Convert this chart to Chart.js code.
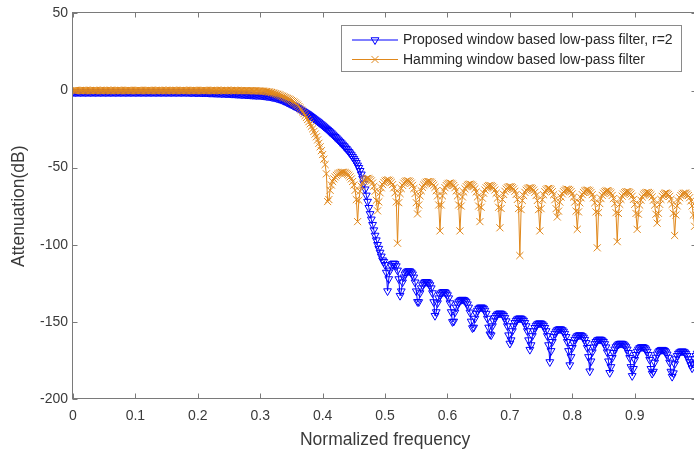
<!DOCTYPE html>
<html>
<head>
<meta charset="utf-8">
<script src="https://cdn.jsdelivr.net/npm/chart.js@4.4.1/dist/chart.umd.min.js"></script>
<style>
  html, body { margin: 0; padding: 0; overflow: hidden; background: #fff; }
  canvas { display: block; }
</style>
</head>
<body>
<canvas id="response" width="710" height="454"></canvas>
<script>
// Frequency grid (normalized, 1 = Nyquist)
const freq = [
  0,0.002,0.004,0.006,0.008,0.01,0.012,0.014,0.016,0.018,
  0.02,0.022,0.024,0.026,0.028,0.03,0.032,0.034,0.036,0.038,
  0.04,0.042,0.044,0.046,0.048,0.05,0.052,0.054,0.056,0.058,
  0.06,0.062,0.064,0.066,0.068,0.07,0.072,0.074,0.076,0.078,
  0.08,0.082,0.084,0.086,0.088,0.09,0.092,0.094,0.096,0.098,
  0.1,0.102,0.104,0.106,0.108,0.11,0.112,0.114,0.116,0.118,
  0.12,0.122,0.124,0.126,0.128,0.13,0.132,0.134,0.136,0.138,
  0.14,0.142,0.144,0.146,0.148,0.15,0.152,0.154,0.156,0.158,
  0.16,0.162,0.164,0.166,0.168,0.17,0.172,0.174,0.176,0.178,
  0.18,0.182,0.184,0.186,0.188,0.19,0.192,0.194,0.196,0.198,
  0.2,0.202,0.204,0.206,0.208,0.21,0.212,0.214,0.216,0.218,
  0.22,0.222,0.224,0.226,0.228,0.23,0.232,0.234,0.236,0.238,
  0.24,0.242,0.244,0.246,0.248,0.25,0.252,0.254,0.256,0.258,
  0.26,0.262,0.264,0.266,0.268,0.27,0.272,0.274,0.276,0.278,
  0.28,0.282,0.284,0.286,0.288,0.29,0.292,0.294,0.296,0.298,
  0.3,0.302,0.304,0.306,0.308,0.31,0.312,0.314,0.316,0.318,
  0.32,0.322,0.324,0.326,0.328,0.33,0.332,0.334,0.336,0.338,
  0.34,0.342,0.344,0.346,0.348,0.35,0.352,0.354,0.356,0.358,
  0.36,0.362,0.364,0.366,0.368,0.37,0.372,0.374,0.376,0.378,
  0.38,0.382,0.384,0.386,0.388,0.39,0.392,0.394,0.396,0.398,
  0.4,0.402,0.404,0.406,0.408,0.41,0.412,0.414,0.416,0.418,
  0.42,0.422,0.424,0.426,0.428,0.43,0.432,0.434,0.436,0.438,
  0.44,0.442,0.444,0.446,0.448,0.45,0.452,0.454,0.456,0.458,
  0.46,0.462,0.464,0.466,0.468,0.47,0.472,0.474,0.476,0.478,
  0.48,0.482,0.484,0.486,0.488,0.49,0.492,0.494,0.496,0.498,
  0.5,0.502,0.504,0.506,0.508,0.51,0.512,0.514,0.516,0.518,
  0.52,0.522,0.524,0.526,0.528,0.53,0.532,0.534,0.536,0.538,
  0.54,0.542,0.544,0.546,0.548,0.55,0.552,0.554,0.556,0.558,
  0.56,0.562,0.564,0.566,0.568,0.57,0.572,0.574,0.576,0.578,
  0.58,0.582,0.584,0.586,0.588,0.59,0.592,0.594,0.596,0.598,
  0.6,0.602,0.604,0.606,0.608,0.61,0.612,0.614,0.616,0.618,
  0.62,0.622,0.624,0.626,0.628,0.63,0.632,0.634,0.636,0.638,
  0.64,0.642,0.644,0.646,0.648,0.65,0.652,0.654,0.656,0.658,
  0.66,0.662,0.664,0.666,0.668,0.67,0.672,0.674,0.676,0.678,
  0.68,0.682,0.684,0.686,0.688,0.69,0.692,0.694,0.696,0.698,
  0.7,0.702,0.704,0.706,0.708,0.71,0.712,0.714,0.716,0.718,
  0.72,0.722,0.724,0.726,0.728,0.73,0.732,0.734,0.736,0.738,
  0.74,0.742,0.744,0.746,0.748,0.75,0.752,0.754,0.756,0.758,
  0.76,0.762,0.764,0.766,0.768,0.77,0.772,0.774,0.776,0.778,
  0.78,0.782,0.784,0.786,0.788,0.79,0.792,0.794,0.796,0.798,
  0.8,0.802,0.804,0.806,0.808,0.81,0.812,0.814,0.816,0.818,
  0.82,0.822,0.824,0.826,0.828,0.83,0.832,0.834,0.836,0.838,
  0.84,0.842,0.844,0.846,0.848,0.85,0.852,0.854,0.856,0.858,
  0.86,0.862,0.864,0.866,0.868,0.87,0.872,0.874,0.876,0.878,
  0.88,0.882,0.884,0.886,0.888,0.89,0.892,0.894,0.896,0.898,
  0.9,0.902,0.904,0.906,0.908,0.91,0.912,0.914,0.916,0.918,
  0.92,0.922,0.924,0.926,0.928,0.93,0.932,0.934,0.936,0.938,
  0.94,0.942,0.944,0.946,0.948,0.95,0.952,0.954,0.956,0.958,
  0.96,0.962,0.964,0.966,0.968,0.97,0.972,0.974,0.976,0.978,
  0.98,0.982,0.984,0.986,0.988,0.99,0.992,0.994,0.996,0.998,
  1
];

// Attenuation (dB) of the proposed window design, r = 2
const proposedDb = [
  -1.0,-1.0,-1.0,-1.0,-1.0,-1.0,-1.0,-1.0,-1.0,-1.0,
  -1.0,-1.0,-1.0,-1.0,-1.0,-1.0,-1.0,-1.0,-1.0,-1.0,
  -1.0,-1.0,-1.0,-1.0,-1.0,-1.0,-1.0,-1.0,-1.0,-1.0,
  -1.0,-1.0,-1.0,-1.0,-1.0,-1.0,-1.0,-1.0,-1.0,-1.0,
  -1.0,-1.0,-1.0,-1.0,-1.0,-1.0,-1.0,-1.0,-1.0,-1.0,
  -1.0,-1.0,-1.0,-1.0,-1.0,-1.0,-1.0,-1.0,-1.0,-1.0,
  -1.0,-1.0,-1.0,-1.0,-1.0,-1.0,-1.0,-1.0,-1.0,-1.0,
  -1.0,-1.0,-1.0,-1.0,-1.0,-1.0,-1.0,-1.0,-1.0,-1.0,
  -1.0,-1.0,-1.0,-1.0,-1.0,-1.0,-1.0,-1.0,-1.0,-1.0,
  -1.0,-1.0,-1.0,-1.1,-1.1,-1.1,-1.1,-1.1,-1.2,-1.2,
  -1.2,-1.2,-1.2,-1.2,-1.3,-1.3,-1.3,-1.3,-1.3,-1.4,
  -1.4,-1.4,-1.4,-1.5,-1.5,-1.5,-1.6,-1.6,-1.6,-1.7,
  -1.7,-1.7,-1.8,-1.8,-1.8,-1.9,-1.9,-2.0,-2.0,-2.0,
  -2.1,-2.1,-2.2,-2.2,-2.3,-2.3,-2.4,-2.4,-2.5,-2.5,
  -2.6,-2.6,-2.7,-2.7,-2.8,-2.8,-2.9,-2.9,-2.9,-3.0,
  -3.0,-3.1,-3.2,-3.3,-3.4,-3.5,-3.6,-3.75,-3.9,-4.05,
  -4.2,-4.4,-4.6,-4.8,-5.0,-5.3,-5.6,-5.9,-6.2,-6.6,
  -7.0,-7.4,-7.8,-8.2,-8.6,-9.0,-9.4,-9.85,-10.3,-10.75,
  -11.2,-11.7,-12.2,-12.7,-13.2,-13.7,-14.2,-14.7,-15.2,-15.8,
  -16.4,-17.0,-17.6,-18.2,-18.8,-19.4,-20.0,-20.6,-21.3,-21.9,
  -22.6,-23.3,-24.0,-24.7,-25.4,-26.1,-26.9,-27.6,-28.4,-29.2,
  -30.0,-30.8,-31.6,-32.4,-33.3,-34.1,-35.0,-35.9,-36.8,-37.7,
  -38.7,-39.7,-40.7,-41.8,-43.0,-44.2,-45.5,-46.9,-48.5,-50.1,
  -52.0,-54.3,-57.0,-60.3,-64.0,-68.0,-72.0,-76.0,-80.0,-83.5,
  -87.0,-90.5,-94.0,-97.0,-100.0,-102.5,-105.0,-107.5,-110.0,-111.0,
  -113,-118,-130,-122.2,-116.6,-113.8,-112.4,-112,-112.4,-113.8,
  -116.6,-122.2,-133,-130.1,-124.3,-121.1,-119.1,-117.9,-117.2,-117,
  -117.2,-117.9,-119.1,-121.1,-124.3,-130.1,-137,-137.1,-131.3,-128.1,
  -126.1,-124.9,-124.2,-124,-124.2,-124.9,-126.1,-128.1,-131.3,-137.1,
  -146,-143.6,-137.8,-134.6,-132.6,-131.4,-130.7,-130.5,-130.7,-131.4,
  -132.6,-134.6,-137.8,-143.6,-150,-149.7,-143.8,-140.6,-138.5,-137.1,
  -136.2,-135.7,-135.5,-135.7,-136.2,-137.1,-138.5,-140.6,-143.8,-149.7,
  -154,-153.6,-147.8,-144.6,-142.6,-141.4,-140.7,-140.5,-140.7,-141.4,
  -142.6,-144.6,-147.8,-153.6,-158,-158.6,-152.7,-149.5,-147.4,-146,
  -145.1,-144.6,-144.4,-144.6,-145.1,-146,-147.4,-149.5,-152.7,-158.6,
  -164,-161.8,-155.9,-152.7,-150.6,-149.2,-148.3,-147.8,-147.6,-147.8,
  -148.3,-149.2,-150.6,-152.7,-155.9,-161.8,-168,-165,-159.1,-155.9,
  -153.8,-152.4,-151.5,-151,-150.8,-151,-151.5,-152.4,-153.8,-155.9,
  -159.1,-165,-176,-168.8,-162.9,-159.7,-157.6,-156.2,-155.3,-154.8,
  -154.6,-154.8,-155.3,-156.2,-157.6,-159.7,-162.9,-168.8,-178,-172.7,
  -166.8,-163.6,-161.5,-160.1,-159.2,-158.7,-158.5,-158.7,-159.2,-160.1,
  -161.5,-163.6,-166.8,-172.7,-182,-175.5,-169.6,-166.4,-164.3,-162.9,
  -162,-161.5,-161.3,-161.5,-162,-162.9,-164.3,-166.4,-169.6,-175.5,
  -183,-179.2,-173.3,-170,-167.8,-166.3,-165.3,-164.5,-164.1,-164,
  -164.1,-164.5,-165.3,-166.3,-167.8,-170,-173.3,-179.2,-185,-180.4,
  -174.5,-171.3,-169.2,-167.8,-166.9,-166.4,-166.2,-166.4,-166.9,-167.8,
  -169.2,-171.3,-174.5,-180.4,-183.5,-182.2,-176.3,-173.1,-171,-169.6,
  -168.7,-168.2,-168,-168.2,-168.7,-169.6,-171,-173.1,-176.3,-182.2,
  -185.5,-183.2,-177.3,-174.1,-172,-170.6,-169.7,-169.2,-169,-169.2,
  -169.7,-170.6,-172,-174.1,-176,-178,-180,-177,-174,-172,
  -170.5
];

// Attenuation (dB) of the Hamming window design
const hammingDb = [
  0,0,0,0,0,0,0,0,0,0,
  0,0,0,0,0,0,0,0,0,0,
  0,0,0,0,0,0,0,0,0,0,
  0,0,0,0,0,0,0,0,0,0,
  0,0,0,0,0,0,0,0,0,0,
  0,0,0,0,0,0,0,0,0,0,
  0,0,0,0,0,0,0,0,0,0,
  0,0,0,0,0,0,0,0,0,0,
  0,0,0,0,0,0,0,0,0,0,
  0,0,0,0,0,0,0,0,0,0,
  0,0,0,0,0,0,0,0,0,0,
  0,0,0,0,0,0,0,0,0,0,
  0,0,0,0,0,0,0,0,0,0,
  0,0,0,-0.05,-0.05,-0.05,-0.05,-0.05,-0.1,-0.1,
  -0.1,-0.1,-0.1,-0.15,-0.15,-0.2,-0.2,-0.2,-0.25,-0.25,
  -0.3,-0.35,-0.4,-0.5,-0.6,-0.7,-0.8,-0.95,-1.1,-1.3,
  -1.5,-1.75,-2.0,-2.25,-2.5,-2.8,-3.1,-3.45,-3.8,-4.15,
  -4.5,-4.85,-5.2,-5.6,-6.0,-6.5,-7.0,-7.5,-8.1,-8.8,
  -9.5,-10.4,-11.5,-12.6,-13.8,-15.0,-16.2,-17.5,-18.8,-20.2,
  -21.6,-23.2,-24.8,-26.5,-28.2,-30.0,-32.0,-34.2,-36.5,-39.0,
  -41.5,-44.5,-48.0,-54.0,-72,-70.7,-64.7,-61.3,-59,-57.3,
  -56,-55,-54.3,-53.7,-53.3,-53.1,-53,-53.1,-53.3,-53.7,
  -54.3,-55,-56,-57.3,-59,-61.3,-64.7,-70.7,-85,-71.2,
  -65.3,-62.1,-60,-58.6,-57.7,-57.2,-57,-57.2,-57.7,-58.6,
  -60,-62.1,-65.3,-71.2,-78,-72.2,-66.3,-63.1,-61,-59.6,
  -58.7,-58.2,-58,-58.2,-58.7,-59.6,-61,-63.1,-66.3,-72.2,
  -99,-72.7,-66.8,-63.6,-61.5,-60.1,-59.2,-58.7,-58.5,-58.7,
  -59.2,-60.1,-61.5,-63.6,-66.8,-72.7,-80,-74.2,-68.3,-65,
  -62.8,-61.3,-60.3,-59.5,-59.1,-59,-59.1,-59.5,-60.3,-61.3,
  -62.8,-65,-68.3,-74.2,-91,-74.2,-68.3,-65.1,-63,-61.6,
  -60.7,-60.2,-60,-60.2,-60.7,-61.6,-63,-65.1,-68.3,-74.2,
  -91,-74.9,-69,-65.8,-63.7,-62.3,-61.4,-60.9,-60.7,-60.9,
  -61.4,-62.3,-63.7,-65.8,-69,-74.9,-85,-75.7,-69.8,-66.6,
  -64.5,-63.1,-62.2,-61.7,-61.5,-61.7,-62.2,-63.1,-64.5,-66.6,
  -69.8,-75.7,-89,-76.5,-70.6,-67.4,-65.3,-63.9,-63,-62.5,
  -62.3,-62.5,-63,-63.9,-65.3,-67.4,-70.6,-76.5,-107,-77.2,
  -71.3,-68.1,-66,-64.6,-63.7,-63.2,-63,-63.2,-63.7,-64.6,
  -66,-68.1,-71.3,-77.2,-91,-76.6,-70.8,-67.6,-65.6,-64.4,
  -63.7,-63.5,-63.7,-64.4,-65.6,-67.6,-70.8,-76.6,-82,-78.2,
  -72.3,-69.1,-67,-65.6,-64.7,-64.2,-64,-64.2,-64.7,-65.6,
  -67,-69.1,-72.3,-78.2,-90,-78.7,-72.8,-69.6,-67.5,-66.1,
  -65.2,-64.7,-64.5,-64.7,-65.2,-66.1,-67.5,-69.6,-72.8,-78.7,
  -102,-79.2,-73.3,-70.1,-68,-66.6,-65.7,-65.2,-65,-65.2,
  -65.7,-66.6,-68,-70.1,-73.3,-79.2,-98,-79.7,-73.8,-70.6,
  -68.5,-67.1,-66.2,-65.7,-65.5,-65.7,-66.2,-67.1,-68.5,-70.6,
  -73.8,-79.7,-90,-80.2,-74.3,-71.1,-69,-67.6,-66.7,-66.2,
  -66,-66.2,-66.7,-67.6,-69,-71.1,-74.3,-80.2,-86,-79.6,
  -73.8,-70.6,-68.6,-67.4,-66.7,-66.5,-66.7,-67.4,-68.6,-70.6,
  -73.8,-79.6,-94,-80.7,-74.8,-71.6,-69.5,-68.1,-67.2,-66.7,
  -66.5,-66.7,-67.2,-68.1,-69.5,-71.6,-74.8,-80.7,-88,-80.7,
  -74.8
];

// Axis ticks and texts
const xTicks = [0, 0.1, 0.2, 0.3, 0.4, 0.5, 0.6, 0.7, 0.8, 0.9, 1];
const yTicks = [50, 0, -50, -100, -150, -200];
const seriesNames = [
  'Proposed window based low-pass filter, r=2',
  'Hamming window based low-pass filter'
];
const xTitle = 'Normalized frequency';
const yTitle = 'Attenuation(dB)';

const BLUE = '#0000ff';
const ORANGE = '#e0881c';
const AXIS = '#7a7a7a';
const TEXT = '#3a3a3a';
const FONT = "'Liberation Sans', Arial, Helvetica, sans-serif";

function toPoints(ys) {
  return freq.map((f, i) => ({ x: f, y: ys[i] }));
}

// Marker shapes reused by the legend
function drawDownTriangle(ctx, x, y, r) {
  ctx.beginPath();
  for (let k = 0; k < 3; k++) {
    const ang = Math.PI + k * 2 * Math.PI / 3;
    const px = x + Math.sin(ang) * r;
    const py = y - Math.cos(ang) * r;
    if (k === 0) ctx.moveTo(px, py); else ctx.lineTo(px, py);
  }
  ctx.closePath();
  ctx.stroke();
}
function drawCrossRot(ctx, x, y, r) {
  const o = r * Math.SQRT1_2;
  ctx.beginPath();
  ctx.moveTo(x - o, y - o); ctx.lineTo(x + o, y + o);
  ctx.moveTo(x - o, y + o); ctx.lineTo(x + o, y - o);
  ctx.stroke();
}

// Boxed axes with inward tick marks on all four sides
const boxAxes = {
  id: 'boxAxes',
  beforeDatasetsDraw(chart) {
    const { ctx, chartArea: a, scales: { x, y } } = chart;
    const L = Math.round(a.left) - 0.5, R = Math.round(a.right) - 0.5;
    const T = Math.round(a.top) - 0.5, B = Math.round(a.bottom) - 0.5;
    const len = 5;
    ctx.save();
    ctx.strokeStyle = AXIS;
    ctx.lineWidth = 1;
    ctx.strokeRect(L, T, R - L, B - T);
    ctx.beginPath();
    xTicks.forEach(v => {
      const px = Math.round(x.getPixelForValue(v)) + 0.5;
      ctx.moveTo(px, B); ctx.lineTo(px, B - len);
      ctx.moveTo(px, T); ctx.lineTo(px, T + len);
    });
    yTicks.forEach(v => {
      const py = Math.round(y.getPixelForValue(v)) + 0.5;
      ctx.moveTo(L, py); ctx.lineTo(L + len, py);
      ctx.moveTo(R, py); ctx.lineTo(R - len, py);
    });
    ctx.stroke();
    ctx.restore();
  }
};

// Boxed legend in the upper right corner of the axes
const boxLegend = {
  id: 'boxLegend',
  afterDraw(chart) {
    const { ctx } = chart;
    const bx = 341.5, by = 25.5, bw = 340, bh = 46;
    ctx.save();
    ctx.fillStyle = '#ffffff';
    ctx.fillRect(bx, by, bw, bh);
    ctx.strokeStyle = '#8a8a8a';
    ctx.lineWidth = 1;
    ctx.strokeRect(bx, by, bw, bh);

    const rows = [
      { y: 40, color: BLUE, marker: 'tri', text: seriesNames[0] },
      { y: 59.5, color: ORANGE, marker: 'x', text: seriesNames[1] }
    ];
    ctx.font = '14px ' + FONT;
    ctx.textBaseline = 'middle';
    ctx.textAlign = 'left';
    rows.forEach(r => {
      ctx.strokeStyle = r.color;
      ctx.lineWidth = 1;
      ctx.beginPath();
      ctx.moveTo(352, r.y); ctx.lineTo(398, r.y);
      ctx.stroke();
      if (r.marker === 'tri') drawDownTriangle(ctx, 375, r.y, 4.5);
      else drawCrossRot(ctx, 375, r.y, 5);
      ctx.fillStyle = '#262626';
      ctx.fillText(r.text, 403, r.y + 0.5);
    });
    ctx.restore();
  }
};

new Chart(document.getElementById('response'), {
  type: 'line',
  data: {
    datasets: [
      {
        label: seriesNames[0],
        data: toPoints(proposedDb),
        borderColor: BLUE,
        borderWidth: 1,
        pointStyle: 'triangle',
        pointRotation: 180,
        pointRadius: 4.5,
        pointBorderColor: BLUE,
        pointBackgroundColor: 'rgba(0,0,0,0)',
        pointBorderWidth: 1,
        tension: 0,
        order: 2
      },
      {
        label: seriesNames[1],
        data: toPoints(hammingDb),
        borderColor: ORANGE,
        borderWidth: 1,
        pointStyle: 'crossRot',
        pointRadius: 5,
        pointBorderColor: ORANGE,
        pointBackgroundColor: 'rgba(0,0,0,0)',
        pointBorderWidth: 1,
        tension: 0,
        order: 1
      }
    ]
  },
  options: {
    responsive: false,
    animation: false,
    events: [],
    layout: { padding: { left: 0, right: 4, top: 11, bottom: 0 } },
    plugins: {
      legend: { display: false },
      tooltip: { enabled: false }
    },
    scales: {
      x: {
        type: 'linear',
        min: 0,
        max: 1,
        afterBuildTicks: s => { s.ticks = xTicks.map(v => ({ value: v })); },
        afterFit: s => { s.height = 55; },
        grid: { display: false, drawTicks: false },
        border: { display: false },
        ticks: {
          padding: 9,
          maxRotation: 0,
          autoSkip: false,
          color: TEXT,
          font: { family: FONT, size: 14 },
          callback: v => String(Math.round(v * 10) / 10)
        },
        title: {
          display: true,
          text: xTitle,
          color: TEXT,
          font: { family: FONT, size: 17.5 },
          padding: { top: 0, bottom: 3 }
        }
      },
      y: {
        type: 'linear',
        min: -200,
        max: 50,
        afterBuildTicks: s => { s.ticks = yTicks.map(v => ({ value: v })); },
        afterFit: s => { s.width = 73; },
        grid: { display: false, drawTicks: false },
        border: { display: false },
        ticks: {
          padding: 5,
          autoSkip: false,
          color: TEXT,
          font: { family: FONT, size: 14 },
          callback: v => String(v)
        },
        title: {
          display: true,
          text: yTitle,
          color: TEXT,
          font: { family: FONT, size: 17.5 },
          padding: { top: 9, bottom: 0 }
        }
      }
    }
  },
  plugins: [boxAxes, boxLegend]
});
</script>
</body>
</html>
